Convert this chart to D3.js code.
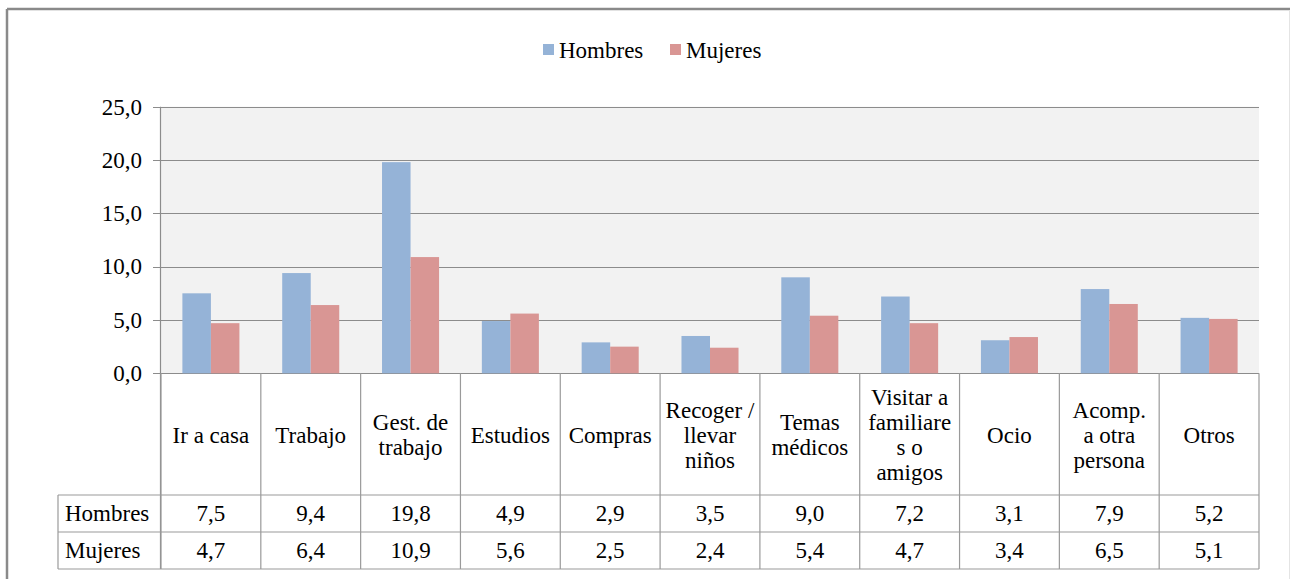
<!DOCTYPE html>
<html>
<head>
<meta charset="utf-8">
<script src="https://cdn.jsdelivr.net/npm/d3@7"></script>
</head>
<body style="margin:0">
<script>
var categories = [
  ["Ir a casa"], ["Trabajo"], ["Gest. de", "trabajo"], ["Estudios"], ["Compras"],
  ["Recoger /", "llevar", "ni\u00f1os"], ["Temas", "m\u00e9dicos"],
  ["Visitar a", "familiare", "s o", "amigos"], ["Ocio"],
  ["Acomp.", "a otra", "persona"], ["Otros"]
];
var series = ["Hombres", "Mujeres"];
var hombres = [7.5, 9.4, 19.8, 4.9, 2.9, 3.5, 9.0, 7.2, 3.1, 7.9, 5.2];
var mujeres = [4.7, 6.4, 10.9, 5.6, 2.5, 2.4, 5.4, 4.7, 3.4, 6.5, 5.1];
var yTicks = [0, 5, 10, 15, 20, 25];
var colors = ["#95B3D7", "#D99694"];

var W = 1290, H = 579;
var plot = { left: 161, right: 1259, top: 106.7, bottom: 373.3 };
var table = { labelLeft: 58, catBottom: 495, row1: 532, row2: 569 };

var svg = d3.select("body").append("svg").attr("width", W).attr("height", H)
  .attr("font-family", "Liberation Serif");

var fmt = function(v) { return d3.format(".1f")(v).replace(".", ","); };

function label(x, y, str, anchor) {
  return svg.append("text")
    .attr("x", x)
    .attr("y", y)
    .attr("dy", "0.34em")
    .attr("text-anchor", anchor || "middle")
    .attr("font-family", "Liberation Serif")
    .style("font-family", "'Liberation Serif'")
    .style("font-size", "23px")
    .text(str);
}

// outer frame
svg.append("line").attr("x1", 7).attr("x2", W).attr("y1", 9).attr("y2", 9)
  .attr("stroke", "#8a8a8a").attr("stroke-width", 2.5);
svg.append("line").attr("x1", 7).attr("x2", 7).attr("y1", 9).attr("y2", H)
  .attr("stroke", "#8a8a8a").attr("stroke-width", 2.5);
svg.append("line").attr("x1", 1289.5).attr("x2", 1289.5).attr("y1", 10).attr("y2", H)
  .attr("stroke", "#e4e4e4").attr("stroke-width", 1);

var x = d3.scaleBand().domain(d3.range(categories.length)).range([plot.left, plot.right]);
var x1 = d3.scaleBand().domain(series).range([0, x.bandwidth()]).paddingOuter(0.75);
var y = d3.scaleLinear().domain([0, 25]).range([plot.bottom, plot.top]);

// plot background
svg.append("rect").attr("x", plot.left).attr("y", y(25))
  .attr("width", plot.right - plot.left).attr("height", y(0) - y(25))
  .attr("fill", "#F2F2F2");

// gridlines + ticks
svg.append("g").selectAll("line").data(yTicks).enter().append("line")
  .attr("x1", plot.left - 8).attr("x2", plot.right)
  .attr("y1", function(d) { return Math.round(y(d)) + 0.5; })
  .attr("y2", function(d) { return Math.round(y(d)) + 0.5; })
  .attr("stroke", "#8c8c8c").attr("stroke-width", 1.2);
svg.append("line").attr("x1", plot.left - 0.5).attr("x2", plot.left - 0.5)
  .attr("y1", y(25)).attr("y2", table.row2)
  .attr("stroke", "#8c8c8c").attr("stroke-width", 1.2);
yTicks.forEach(function(t) { label(142, y(t), fmt(t), "end"); });

// bars
var data = [hombres, mujeres];
var bars = svg.append("g");
series.forEach(function(s, si) {
  bars.selectAll(".bar" + si).data(data[si]).enter().append("rect")
    .attr("class", "bar" + si)
    .attr("x", function(d, i) { return x(i) + x1(s); })
    .attr("width", x1.bandwidth())
    .attr("y", function(d) { return y(d); })
    .attr("height", function(d) { return y(0) - y(d); })
    .attr("fill", colors[si]);
});

// data table grid
var tl = svg.append("g").attr("stroke", "#9a9a9a").attr("stroke-width", 1.2);
d3.range(categories.length + 1).forEach(function(i) {
  var xx = i < categories.length ? x(i) : plot.right;
  tl.append("line").attr("x1", xx).attr("x2", xx).attr("y1", plot.bottom).attr("y2", table.row2);
});
tl.append("line").attr("x1", table.labelLeft).attr("x2", table.labelLeft)
  .attr("y1", table.catBottom).attr("y2", table.row2);
[table.catBottom, table.row1, table.row2].forEach(function(yy) {
  tl.append("line").attr("x1", table.labelLeft).attr("x2", plot.right).attr("y1", yy).attr("y2", yy);
});

// category labels
var lh = 25;
categories.forEach(function(lines, i) {
  var cx = x(i) + x.bandwidth() / 2;
  var cy = (plot.bottom + table.catBottom) / 2 + 1;
  lines.forEach(function(ln, j) {
    label(cx, cy + (j - (lines.length - 1) / 2) * lh, ln);
  });
});

// table values
var rowY = [(table.catBottom + table.row1) / 2, (table.row1 + table.row2) / 2];
series.forEach(function(s, si) {
  label(65, rowY[si], s, "start");
  data[si].forEach(function(v, i) {
    label(x(i) + x.bandwidth() / 2, rowY[si], fmt(v));
  });
});

// legend
var legX = [543, 670];
series.forEach(function(s, si) {
  svg.append("rect").attr("x", legX[si]).attr("y", 44).attr("width", 11).attr("height", 11)
    .attr("fill", colors[si]);
  label(legX[si] + 16, 50, s, "start");
});
</script>
</body>
</html>
